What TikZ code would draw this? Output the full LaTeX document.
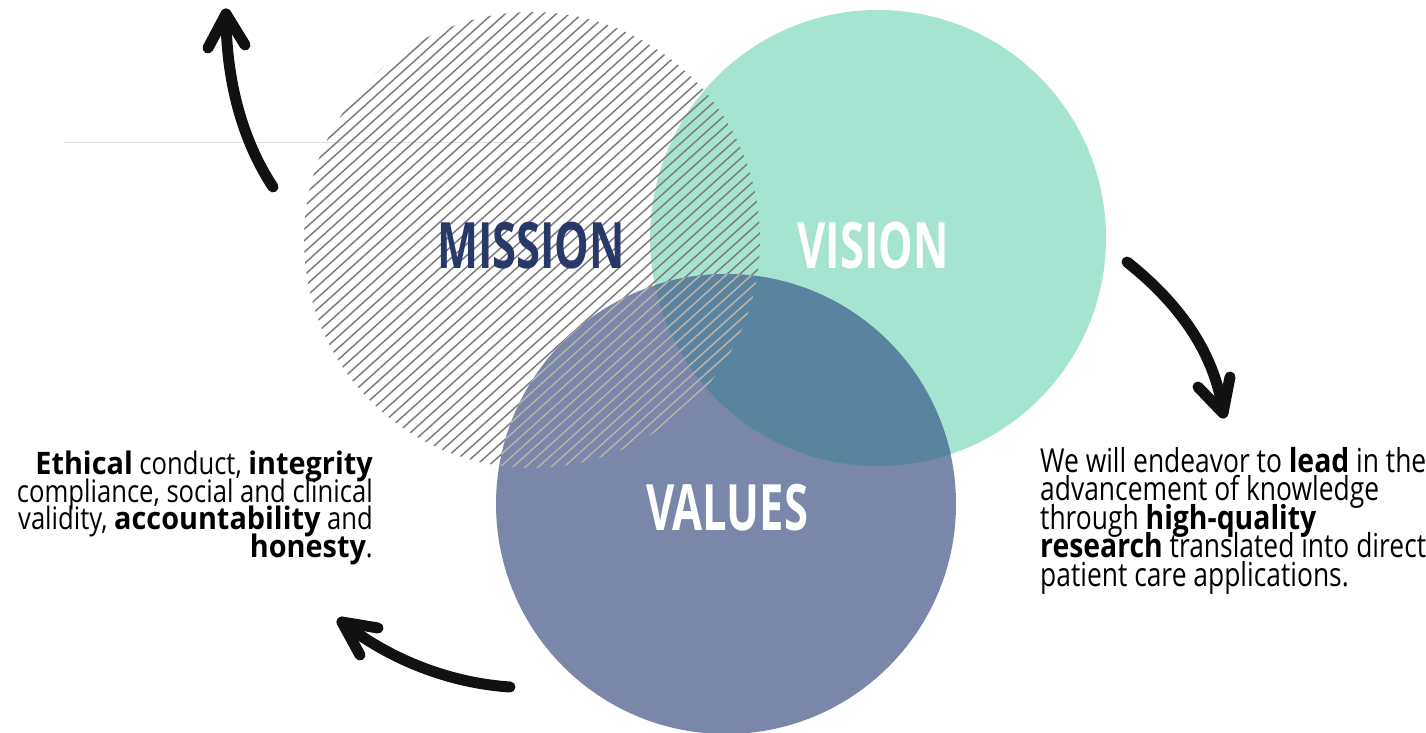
\documentclass[tikz,border=0pt]{standalone}
\usepackage{fontspec}
\setmainfont{Open Sans}
\newfontfamily\titlefont{Open Sans}[FakeStretch=0.68]
\newfontfamily\lreg{Open Sans}[FakeStretch=0.826]
\newfontfamily\lbold{Open Sans}[FakeStretch=0.93]
\newfontfamily\rreg{Open Sans}[FakeStretch=0.80]
\newfontfamily\rbold{Open Sans}[FakeStretch=0.86]
\newcommand\lb[1]{{\lbold\bfseries #1}}
\newcommand\rb[1]{{\rbold\bfseries #1}}
\definecolor{visioncol}{RGB}{166,228,210}
\definecolor{valuescol}{RGB}{122,134,170}
\definecolor{overlapcol}{RGB}{88,132,160}
\definecolor{hatchcol}{RGB}{125,125,125}
\definecolor{hatchlight}{RGB}{184,180,172}
\definecolor{missioncol}{RGB}{40,56,105}
\definecolor{inkcol}{RGB}{17,17,17}
\newcommand\mytightlines{\lineskiplimit=-100pt\relax\lineskip=0pt\relax}
\begin{document}
\begin{tikzpicture}[x=1pt,y=-1pt,
  hatch/.style={draw=hatchcol,line width=1.5pt},
  hatchsoft/.style={draw=hatchlight,line width=1.5pt},
  titletext/.style={font=\titlefont\bfseries\fontsize{64}{64}\selectfont,anchor=base,inner sep=0pt},
  lefttext/.style={font={\lreg\fontsize{31}{27.5}\selectfont\mytightlines},inner sep=0pt},
  righttext/.style={font={\rreg\fontsize{33}{28.5}\selectfont\mytightlines},inner sep=0pt},
  inkstroke/.style={draw=inkcol,line width=11pt,line cap=round,line join=round},
  rule/.style={draw=black!12,line width=1pt}]
\useasboundingbox (0,0) rectangle (1426,733);
\clip (0,0) rectangle (1426,733);
\draw[rule] (65,142) -- (540,142);
\fill[visioncol] (878,238) circle [radius=228pt];
\fill[valuescol] (726,504) circle [radius=230pt];
\begin{scope}
  \clip (878,238) circle [radius=228pt];
  \fill[overlapcol] (726,504) circle [radius=230pt];
\end{scope}
\begin{scope}
  \clip (532,240) circle [radius=228pt];
  \foreach \c in {411,422.5,...,1030} \draw[hatch] (200,\c-180) -- (850,\c-765);
  \clip (726,504) circle [radius=230pt];
  \foreach \c in {411,422.5,...,1030} \draw[hatchsoft] (200,\c-180) -- (850,\c-765);
\end{scope}
\node[titletext,text=missioncol] (mission) at (531,268) {MISSION};
\node[titletext,text=white] (vision) at (873,268) {VISION};
\node[titletext,text=white] (values) at (727,530) {VALUES};
\node[lefttext,align=right,anchor=north east] (valtext) at (373,451)
  {\lb{Ethical} conduct, \lb{integrity}\\
   compliance, social and clinical\\
   validity, \lb{accountability} and\\
   \lb{honesty}.};
\node[righttext,align=left,anchor=north west] (vistext) at (1040,447)
  {We will endeavor to \rb{lead} in the\\
   advancement of knowledge\\
   through \rb{high-quality}\\
   \rb{research} translated into direct\\
   patient care applications.};
% arrows
\coordinate (a1s) at (273,187); \coordinate (a1t) at (226,14);
\draw[inkstroke] (a1s) .. controls (242,140) and (226,80) .. (a1t);
\draw[inkstroke] (208,48) -- (a1t) -- (245,45);
\coordinate (a2s) at (1127,262); \coordinate (a2t) at (1223,413);
\draw[inkstroke] (a2s) .. controls (1175,300) and (1215,350) .. (a2t);
\draw[inkstroke] (1198,387) -- (a2t) -- (1230,377);
\coordinate (a3s) at (510,687); \coordinate (a3t) at (342,622);
\draw[inkstroke] (a3s) .. controls (450,683) and (390,660) .. (a3t);
\draw[inkstroke] (378,628) -- (a3t) -- (360,655);
\end{tikzpicture}
\end{document}
